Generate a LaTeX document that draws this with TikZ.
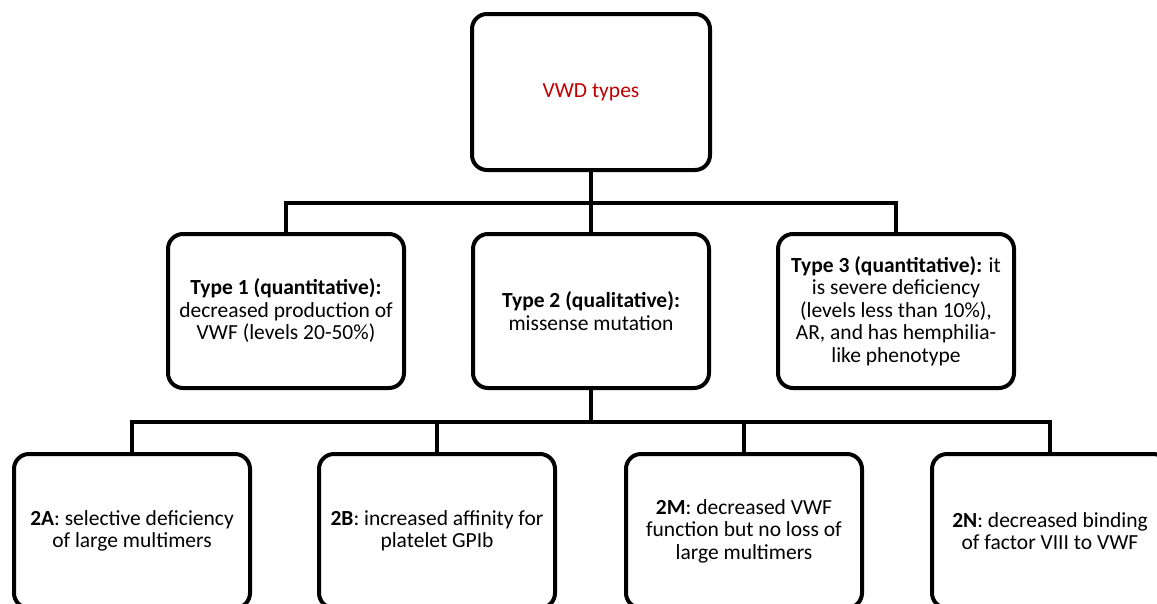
\documentclass[tikz,border=0pt]{standalone}
\usepackage{fontspec}
\setmainfont{Carlito}
\usetikzlibrary{positioning,calc}
\definecolor{vwdred}{RGB}{192,0,0}

\tikzset{
  typebox/.style={draw, line width=4pt, rounded corners=15pt, fill=white,
    minimum width=236pt, minimum height=154pt, align=center,
    font=\fontsize{21.5}{22.5}\selectfont},
  link/.style={line width=4pt}
}

\begin{document}
\begin{tikzpicture}[x=1pt, y=-1pt]
			% Frame
			\useasboundingbox (0,0) rectangle (1157,603);
			\clip (0,0) rectangle (1157,603);
			\fill[white] (0,0) rectangle (1157,603);
			
			% Root
			\node[typebox, minimum width=238pt, minimum height=156pt] (root) at (591,92) {\textcolor{vwdred}{VWD types}};
			
			% Main types
			\node[typebox] (type1) at (286,311) {\textbf{Type 1 (quantitative):}\\decreased production of\\VWF (levels 20-50\%)};
			\node[typebox] (type2) at (591,311) {\textbf{Type 2 (qualitative):}\\missense mutation};
			\node[typebox] (type3) at (896,311) {\textbf{Type 3 (quantitative):} it\\is severe deficiency\\(levels less than 10\%),\\AR, and has hemphilia-\\like phenotype};
			
			% Subtypes of type 2
			\node[typebox] (sub2a) at (132,531) {\textbf{2A}: selective deficiency\\of large multimers};
			\node[typebox] (sub2b) at (437,531) {\textbf{2B}: increased affinity for\\platelet GPIb};
			\node[typebox] (sub2m) at (744,531) {\textbf{2M}: decreased VWF\\function but no loss of\\large multimers};
			\node[typebox] (sub2n) at (1050,531) {\textbf{2N}: decreased binding\\of factor VIII to VWF};
			
			% Connectors
			\coordinate (bus1) at (591,203);
			\coordinate (bus2) at (591,422);
			\draw[link] (root.south) -- (type2.north);
			\draw[link] (type1.north) |- (bus1) -| (type3.north);
			\draw[link] (type2.south) -- (bus2);
			\draw[link] (sub2a.north) |- (bus2) -| (sub2n.north);
			\draw[link] (sub2b.north) -- (sub2b.north |- bus2);
			\draw[link] (sub2m.north) -- (sub2m.north |- bus2);
		\end{tikzpicture}
\end{document}
